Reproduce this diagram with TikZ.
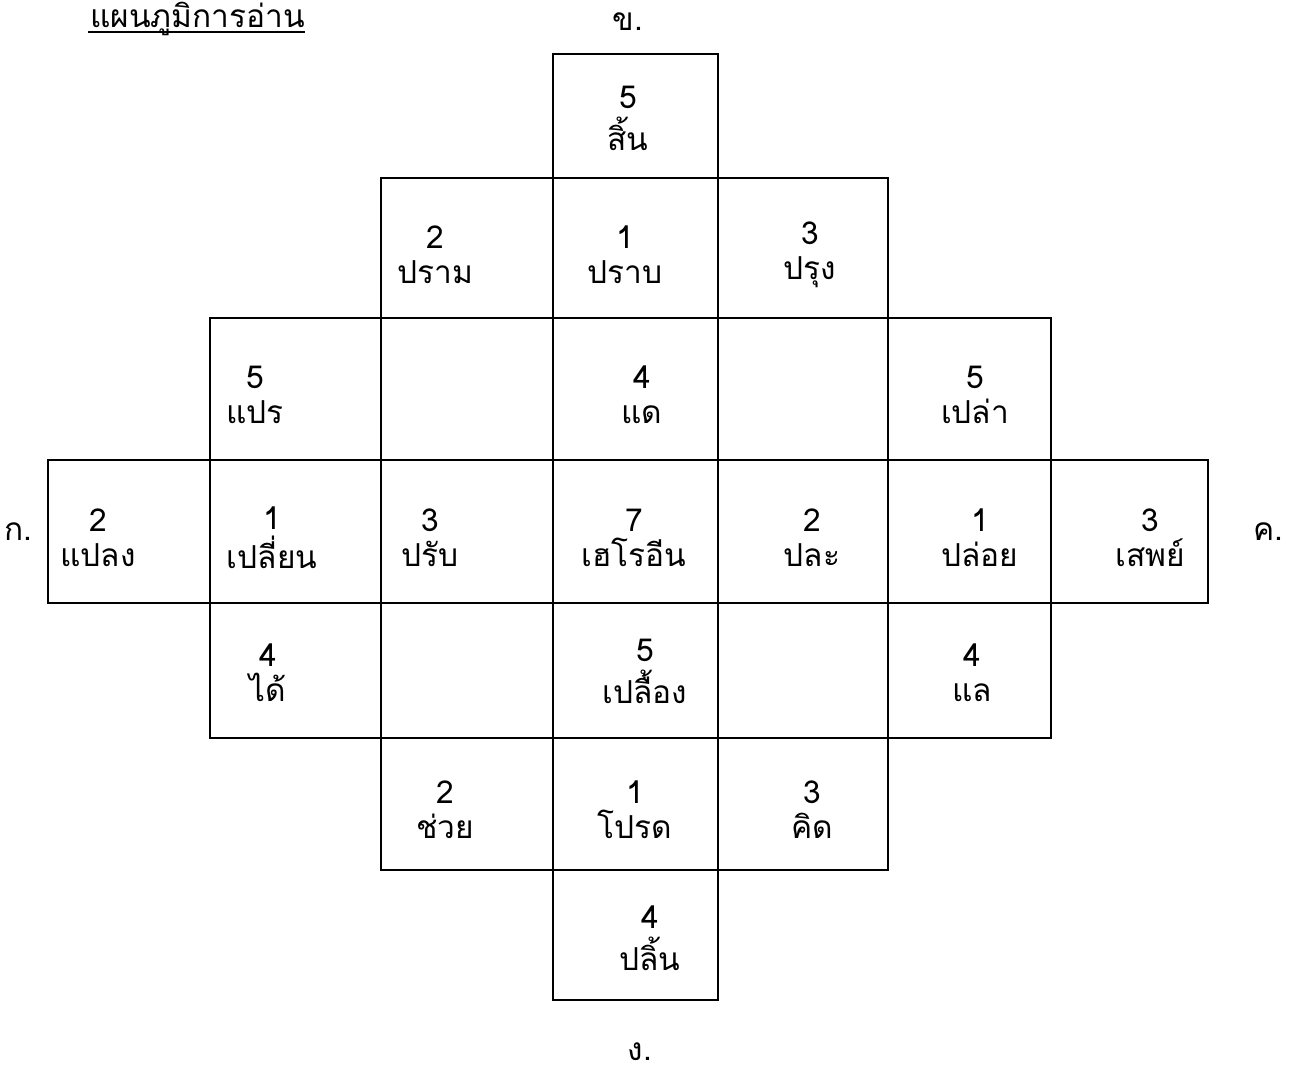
\documentclass[tikz,border=0pt]{standalone}
\usepackage{fontspec}
\newfontfamily\thaifont[Script=Thai]{Loma}
\usepackage{tikz}
\usetikzlibrary{calc}
\tikzstyle{gridline} = [
    draw=black,
    line width=1.3pt
]
\tikzstyle{cellword} = [
    align=center,
    inner sep=0pt,
    font=\thaifont\fontsize{18}{20}\selectfont
]
\tikzstyle{dirlabel} = [
    inner sep=0pt,
    font=\thaifont\fontsize{18}{18}\selectfont
]
\begin{document}
\begin{tikzpicture}[x=0.02cm, y=-0.02cm]
        \useasboundingbox[fill=white] (0,0) rectangle (1291,1079);

        % Title
        \node[dirlabel, anchor=base west] (title) at (90,27) {แผนภูมิการอ่าน};
        \draw[line width=1.2pt] ($(title.base west)+(-2,5)$) -- ($(title.base east)+(0,5)$);

        % Grid
        \draw[gridline] (553,54) rectangle (718,178);
        \draw[gridline] (381,178) rectangle (888,318);
        \draw[gridline] (210,318) rectangle (1051,460);
        \draw[gridline] (48,460) rectangle (1208,603);
        \draw[gridline] (210,603) rectangle (1051,738);
        \draw[gridline] (381,738) rectangle (888,870);
        \draw[gridline] (553,870) rectangle (718,1000);
        \foreach \x in {553,718}
            \draw[gridline] (\x,178) -- (\x,318);
        \foreach \x in {381,553,718,888}
            \draw[gridline] (\x,318) -- (\x,460);
        \foreach \x in {210,381,553,718,888,1051}
            \draw[gridline] (\x,460) -- (\x,603);
        \foreach \x in {381,553,718,888}
            \draw[gridline] (\x,603) -- (\x,738);
        \foreach \x in {553,718}
            \draw[gridline] (\x,738) -- (\x,870);

        % Row 1
        \node[cellword] (sin) at (628,118) {5\\[4pt]สิ้น};

        % Row 2
        \node[cellword] (pram) at (435,255) {2\\ปราม};
        \node[cellword] (prab) at (625,255) {1\\ปราบ};
        \node[cellword] (prung) at (810,255) {3\\ปรุง};

        % Row 3
        \node[cellword] (prae) at (255,395) {5\\แปร};
        \node[cellword] (dae) at (642,395) {4\\แด};
        \node[cellword] (plao) at (975,395) {5\\เปล่า};

        % Row 4
        \node[cellword] (plaeng) at (98,538) {2\\แปลง};
        \node[cellword] (plian) at (272,538) {1\\[2pt]เปลี่ยน};
        \node[cellword] (prab2) at (430,538) {3\\ปรับ};
        \node[cellword] (heroin) at (634,538) {7\\เฮโรอีน};
        \node[cellword] (pla) at (812,538) {2\\ปละ};
        \node[cellword] (ploi) at (980,538) {1\\ปล่อย};
        \node[cellword] (sep) at (1150,538) {3\\เสพย์};

        % Row 5
        \node[cellword] (dai) at (268,673) {4\\ได้};
        \node[cellword] (plueang) at (645,671) {5\\[4pt]เปลื้อง};

        \node[cellword] (lae) at (972,673) {4\\แล};

        % Row 6
        \node[cellword] (chuai) at (445,810) {2\\ช่วย};
        \node[cellword] (prot) at (635,810) {1\\โปรด};
        \node[cellword] (khit) at (812,810) {3\\คิด};

        % Row 7
        \node[cellword] (plin) at (650,938) {4\\[4pt]ปลิ้น};

        % Direction labels
        \node[dirlabel] (ko) at (18,532) {ก.};
        \node[dirlabel] (kho) at (628,22) {ข.};
        \node[dirlabel] (kho2) at (1268,532) {ค.};
        \node[dirlabel] (ngo) at (640,1052) {ง.};
    \end{tikzpicture}
\end{document}
